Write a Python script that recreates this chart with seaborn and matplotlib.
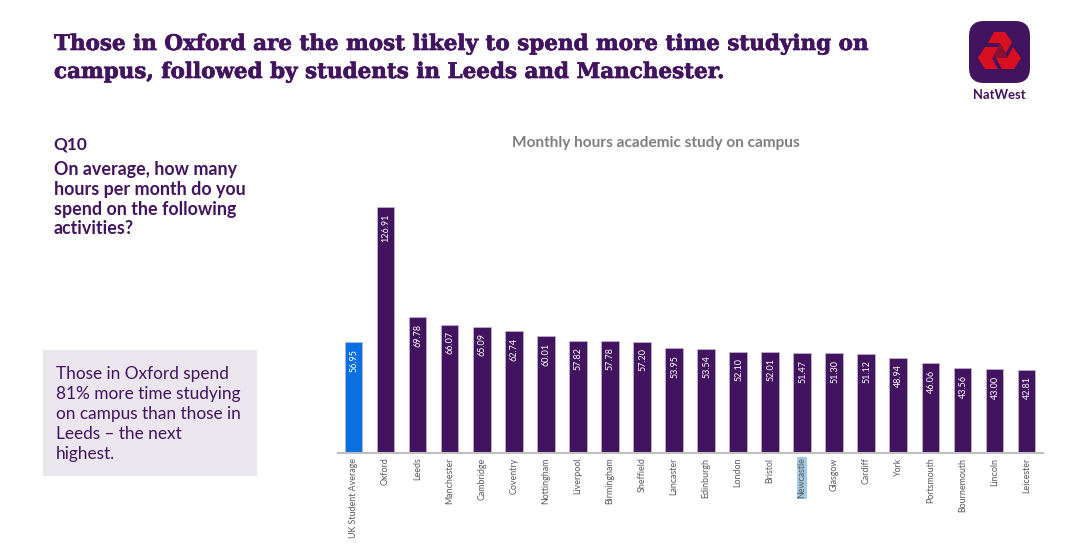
import matplotlib
matplotlib.use('Agg')
import matplotlib.pyplot as plt
import matplotlib.patheffects as pe
import seaborn as sns
import pandas as pd
from matplotlib.patches import FancyBboxPatch, Polygon, Rectangle

sns.set_theme(style='white')
plt.rcParams['font.family'] = ['Lato', 'DejaVu Sans']

PURPLE = '#42145f'
BLUE = '#0a6fe0'
RED = '#d9101f'

cities = ['UK Student Average', 'Oxford', 'Leeds', 'Manchester', 'Cambridge', 'Coventry',
          'Nottingham', 'Liverpool', 'Birmingham', 'Sheffield', 'Lancaster', 'Edinburgh',
          'London', 'Bristol', 'Newcastle', 'Glasgow', 'Cardiff', 'York', 'Portsmouth',
          'Bournemouth', 'Lincoln', 'Leicester']
hours = [56.95, 126.91, 69.78, 66.07, 65.09, 62.74, 60.01, 57.82, 57.78, 57.20, 53.95,
         53.54, 52.10, 52.01, 51.47, 51.30, 51.12, 48.94, 46.06, 43.56, 43.00, 42.81]

df = pd.DataFrame({'city': cities, 'hours': hours})
W, H = 1080, 555

fig = plt.figure(figsize=(W / 100, H / 100), dpi=100, facecolor='white')

# overlay in pixel coordinates for the slide furniture
bg = fig.add_axes([0, 0, 1, 1])
bg.set_xlim(0, W)
bg.set_ylim(H, 0)
bg.axis('off')

heavy = [pe.withStroke(linewidth=0.5, foreground=PURPLE)]
for y, line in zip([44, 72], ['Those in Oxford are the most likely to spend more time studying on',
                              'campus, followed by students in Leeds and Manchester.']):
    bg.text(54, y, line, family='DejaVu Serif', weight='bold', fontsize=15.45, color=PURPLE,
            va='center', path_effects=heavy)

bg.text(53.5, 145, 'Q10', weight='bold', fontsize=12.4, color=PURPLE, va='center')
for y, line in zip([170, 190, 209, 229],
                   ['On average, how many', 'hours per month do you',
                    'spend on the following', 'activities?']):
    bg.text(54, y, line, weight='bold', fontsize=12.9, color=PURPLE, va='center')

bg.add_patch(Rectangle((43, 350), 214, 126, facecolor='#ebe6ee', edgecolor='none'))
for y, line in zip([374, 394, 414, 434, 454],
                   ['Those in Oxford spend', '81% more time studying',
                    'on campus than those in', 'Leeds – the next', 'highest.']):
    bg.text(56, y, line, fontsize=12.4, color=PURPLE, va='center')

bg.text(656, 143, 'Monthly hours academic study on campus', weight='bold', fontsize=11.1,
        color='#7f7f7f', ha='center', va='center')

# logo
bg.add_patch(FancyBboxPatch((977, 29), 45, 46, boxstyle='round,pad=8,rounding_size=15',
                            facecolor=PURPLE, edgecolor='none'))
bg.add_patch(Polygon([(1000, 43), (1008, 58), (992, 58)], closed=True, facecolor='#8a1035',
                     edgecolor='none'))
for pts in [[(994, 32), (1005, 32), (1012, 42), (1006, 53), (1000, 43), (988, 43)],
            [(978, 58), (985, 47), (998, 47), (992, 58), (998, 69), (985, 69)],
            [(1002, 69), (996, 58), (1007, 58), (1013, 47), (1021, 58), (1014, 69)]]:
    bg.add_patch(Polygon(pts, closed=True, facecolor=RED, edgecolor='none'))
bg.text(999, 95, 'NatWest', weight='bold', fontsize=9.4, color=PURPLE, ha='center', va='center')

# chart
ax = fig.add_axes([337.5 / W, 1 - 452.7 / H, 705 / W, 246 / H], facecolor='none')
colors = [BLUE] + [PURPLE] * (len(cities) - 1)
sns.barplot(data=df, x='city', y='hours', hue='city', palette=colors, legend=False,
            width=0.55, saturation=1, edgecolor='#c4b2d0', linewidth=0.5, ax=ax)
ax.set_xlim(-0.5, len(cities) - 0.5)
ax.set_ylim(0, 126.91)
ax.set_xlabel('')
ax.set_ylabel('')
ax.set_yticks([])
sns.despine(ax=ax, left=True)
ax.spines['bottom'].set_color('#bfbfbf')
ax.spines['bottom'].set_linewidth(1.5)
ax.tick_params(axis='x', length=0, pad=3.5)
ax.set_xticks(range(len(cities)))
ax.set_xticklabels(cities, rotation=90, fontsize=6.4, color='#595959')
for lab in ax.get_xticklabels():
    if lab.get_text() == 'Newcastle':
        lab.set_bbox(dict(facecolor='#a3cbe6', edgecolor='none', pad=0.6))

for i, v in enumerate(hours):
    ax.text(i + 0.02, v - 3.4, f'{v:.2f}', rotation=90, ha='center', va='top',
            color='white', fontsize=6.5)

fig.savefig('out.png', dpi=100)
